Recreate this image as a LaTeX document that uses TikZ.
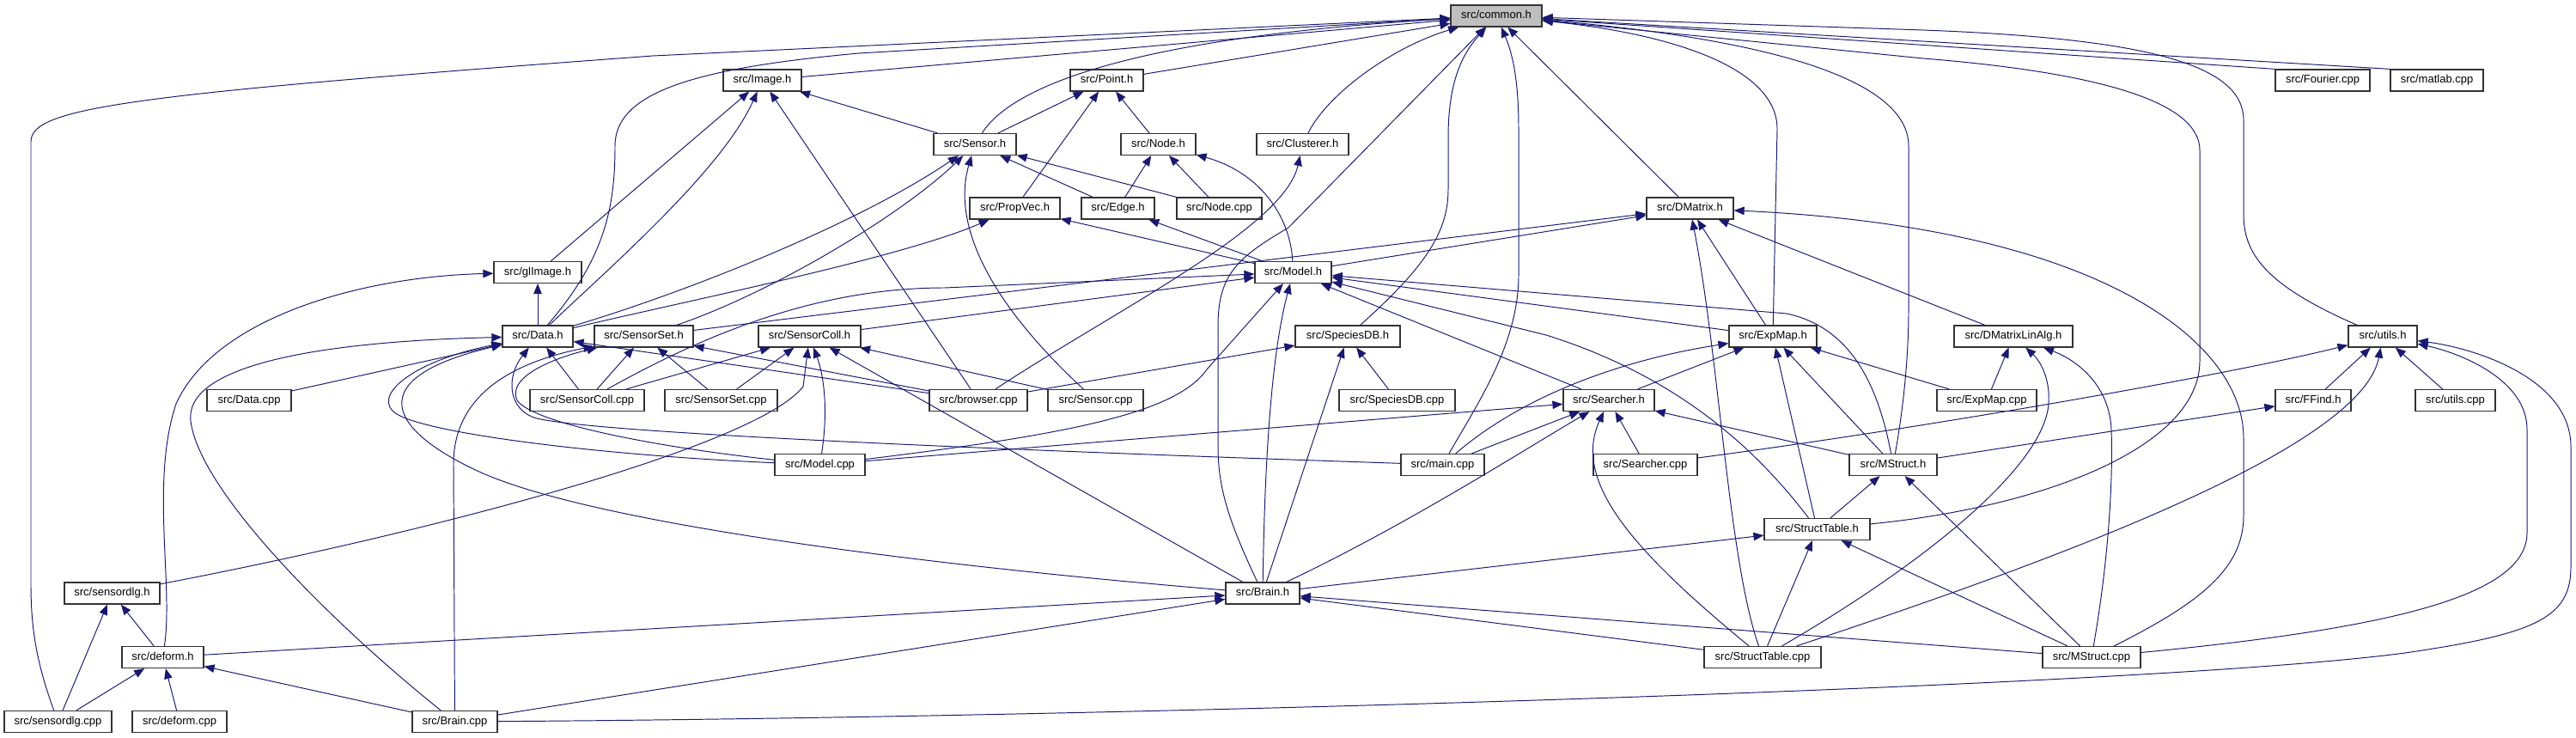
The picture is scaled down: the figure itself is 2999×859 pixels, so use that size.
\documentclass[tikz,border=0pt]{standalone}
\usepackage{fontspec}
\setmainfont{Liberation Sans}
\usetikzlibrary{arrows.meta}
\definecolor{dxedge}{HTML}{191970}
\definecolor{dxfill}{HTML}{BFBFBF}

\begin{document}
\begin{tikzpicture}[x=0.2mm,y=-0.2mm,
  file/.style={draw=black!80,fill=white,line width=0.7pt,minimum height=5mm,
    inner sep=0pt,text height=5.4pt,text depth=1.6pt,font=\fontsize{7.4}{8}\selectfont},
  focus/.style={file,fill=dxfill},
  dep/.style={-{Triangle[length=2.4mm,width=1.9mm]},dxedge,line width=0.55pt}]
  \useasboundingbox[fill=white] (0,0) rectangle (2999,859);
  \node[focus,minimum width=21.2mm] (common) at (1742,18.5) {src/common.h};
  \node[file,minimum width=18.2mm] (image) at (887.5,93.5) {src/Image.h};
  \node[file,minimum width=17mm] (point) at (1288.5,93.5) {src/Point.h};
  \node[file,minimum width=22mm] (fourier) at (2704,93.5) {src/Fourier.cpp};
  \node[file,minimum width=21.6mm] (matlab) at (2837,93.5) {src/matlab.cpp};
  \node[file,minimum width=19.2mm] (sensorh) at (1135,168) {src/Sensor.h};
  \node[file,minimum width=17.4mm] (nodeh) at (1348.5,168) {src/Node.h};
  \node[file,minimum width=21.4mm] (clusterer) at (1516.5,168) {src/Clusterer.h};
  \node[file,minimum width=21mm] (propvec) at (1181.5,242.5) {src/PropVec.h};
  \node[file,minimum width=17mm] (edge) at (1301.5,242.5) {src/Edge.h};
  \node[file,minimum width=19.8mm] (nodecpp) at (1419.5,242.5) {src/Node.cpp};
  \node[file,minimum width=20.2mm] (dmatrix) at (1967.5,242.5) {src/DMatrix.h};
  \node[file,minimum width=20.4mm] (glimage) at (626,317) {src/glImage.h};
  \node[file,minimum width=17.8mm] (modelh) at (1505.5,317) {src/Model.h};
  \node[file,minimum width=16.4mm] (datah) at (626,391.5) {src/Data.h};
  \node[file,minimum width=23mm] (sensorset) at (749.5,391.5) {src/SensorSet.h};
  \node[file,minimum width=23.8mm] (sensorcoll) at (942.5,391.5) {src/SensorColl.h};
  \node[file,minimum width=24.4mm] (speciesdb) at (1569,391.5) {src/SpeciesDB.h};
  \node[file,minimum width=20.4mm] (expmap) at (2064,391.5) {src/ExpMap.h};
  \node[file,minimum width=27.6mm] (linalg) at (2344,391.5) {src/DMatrixLinAlg.h};
  \node[file,minimum width=16mm] (utils) at (2774,391.5) {src/utils.h};
  \node[file,minimum width=19.6mm] (datacpp) at (290,466) {src/Data.cpp};
  \node[file,minimum width=26.6mm] (scollcpp) at (683.5,466) {src/SensorColl.cpp};
  \node[file,minimum width=26.2mm] (ssetcpp) at (839.5,466) {src/SensorSet.cpp};
  \node[file,minimum width=22.8mm] (browser) at (1139,466) {src/browser.cpp};
  \node[file,minimum width=22.2mm] (sensorcpp) at (1275.5,466) {src/Sensor.cpp};
  \node[file,minimum width=27mm] (speciescpp) at (1626.5,466) {src/SpeciesDB.cpp};
  \node[file,minimum width=21.2mm] (searcher) at (1873,466) {src/Searcher.h};
  \node[file,minimum width=23.2mm] (expmapcpp) at (2313,466) {src/ExpMap.cpp};
  \node[file,minimum width=17.6mm] (ffind) at (2693,466) {src/FFind.h};
  \node[file,minimum width=18.6mm] (utilscpp) at (2858.5,466) {src/utils.cpp};
  \node[file,minimum width=21mm] (modelcpp) at (954.5,541) {src/Model.cpp};
  \node[file,minimum width=19.4mm] (maincpp) at (1679.5,541) {src/main.cpp};
  \node[file,minimum width=24.2mm] (searchercpp) at (1915.5,541) {src/Searcher.cpp};
  \node[file,minimum width=20.4mm] (mstruct) at (2204,541) {src/MStruct.h};
  \node[file,minimum width=24.6mm] (structh) at (2115.5,616) {src/StructTable.h};
  \node[file,minimum width=22.2mm] (sdlgh) at (130.5,690.5) {src/sensordlg.h};
  \node[file,minimum width=17.2mm] (brainh) at (1470,690.5) {src/Brain.h};
  \node[file,minimum width=19mm] (deformh) at (189.5,765) {src/deform.h};
  \node[file,minimum width=27.2mm] (structcpp) at (2052,765) {src/StructTable.cpp};
  \node[file,minimum width=22.8mm] (mstructcpp) at (2435,765) {src/MStruct.cpp};
  \node[file,minimum width=25mm] (sdlgcpp) at (67.5,840) {src/sensordlg.cpp};
  \node[file,minimum width=22mm] (deformcpp) at (209,840) {src/deform.cpp};
  \node[file,minimum width=19.8mm] (braincpp) at (529.5,840) {src/Brain.cpp};
  \draw[dep] (image) -- (common);
  \draw[dep] (point) -- (common);
  \draw[dep] (sensorh) .. controls (1175,105) and (1300,45) .. (common);
  \draw[dep] (clusterer) .. controls (1545,110) and (1620,55) .. (common);
  \draw[dep] (datah) .. controls (705,300) and (716,240) .. (716,170) .. controls (716,110) and (800,80) .. (1000,62) -- (common);
  \draw[dep] (sdlgcpp) .. controls (42,770) and (36,730) .. (36,680) -- (36,165) .. controls (36,125) and (150,110) .. (760,65) -- (common);
  \draw[dep] (dmatrix) -- (common);
  \draw[dep] (speciesdb) .. controls (1660,310) and (1686,270) .. (1686,220) -- (1686,160) .. controls (1686,90) and (1705,60) .. (common);
  \draw[dep] (brainh) .. controls (1432,610) and (1418,570) .. (1418,520) -- (1418,380) .. controls (1418,320) and (1440,300) .. (1500,265) -- (common);
  \draw[dep] (maincpp) .. controls (1720,470) and (1768,400) .. (1768,320) -- (1768,150) .. controls (1768,90) and (1760,60) .. (common);
  \draw[dep] (expmap) -- (2069,150) .. controls (2069,80) and (1950,40) .. (common);
  \draw[dep] (mstruct) .. controls (2215,480) and (2222,420) .. (2222,360) -- (2222,170) .. controls (2222,90) and (2050,45) .. (common);
  \draw[dep] (structh) .. controls (2380,590) and (2561,520) .. (2561,420) -- (2561,175) .. controls (2561,120) and (2450,85) .. (2239,68) -- (common);
  \draw[dep] (utils) .. controls (2645,335) and (2612,300) .. (2612,250) -- (2612,140) .. controls (2612,75) and (2500,45) .. (2239,35) -- (common);
  \draw[dep] (fourier.north west) -- (common);
  \draw[dep] (matlab.north west) -- (common);
  \draw[dep] (sensorh) -- (image);
  \draw[dep] (sensorh) -- (point);
  \draw[dep] (nodeh) -- (point);
  \draw[dep] (propvec) -- (point);
  \draw[dep] (glimage) -- (image);
  \draw[dep] (datah) .. controls (700,320) and (840,200) .. (image);
  \draw[dep] (browser) -- (image);
  \draw[dep] (edge) -- (sensorh);
  \draw[dep] (nodecpp) -- (sensorh);
  \draw[dep] (edge) -- (nodeh);
  \draw[dep] (nodecpp) -- (nodeh);
  \draw[dep] (modelh) .. controls (1502,250) and (1465,200) .. (nodeh);
  \draw[dep] (modelh) -- (edge);
  \draw[dep] (modelh) -- (propvec);
  \draw[dep] (datah) .. controls (800,350) and (1050,300) .. (propvec);
  \draw[dep] (datah) .. controls (800,340) and (1000,260) .. (sensorh);
  \draw[dep] (sensorset) .. controls (900,340) and (1050,250) .. (sensorh);
  \draw[dep] (sensorcpp) .. controls (1150,350) and (1108,260) .. (sensorh);
  \draw[dep] (browser) .. controls (1300,360) and (1495,265) .. (clusterer);
  \draw[dep] (modelh) -- (dmatrix);
  \draw[dep] (sensorset) -- (dmatrix);
  \draw[dep] (expmap) -- (dmatrix);
  \draw[dep] (structcpp) .. controls (2012,650) and (2002,420) .. (dmatrix);
  \draw[dep] (linalg) -- (dmatrix);
  \draw[dep] (mstructcpp) .. controls (2565,700) and (2612,660) .. (2612,600) -- (2612,510) .. controls (2612,400) and (2450,265) .. (dmatrix);
  \draw[dep] (datah) -- (glimage);
  \draw[dep] (deformh) .. controls (202,680) and (175,560) .. (205,470) .. controls (250,370) and (420,322) .. (glimage);
  \draw[dep] (sensorcoll) -- (modelh);
  \draw[dep] (scollcpp) .. controls (820,390) and (950,335) .. (1100,335) -- (modelh);
  \draw[dep] (modelcpp) .. controls (1250,505) and (1370,480) .. (1405,430) -- (modelh);
  \draw[dep] (brainh) .. controls (1472,560) and (1478,420) .. (modelh);
  \draw[dep] (searcher) -- (modelh);
  \draw[dep] (expmap) -- (modelh);
  \draw[dep] (structh) .. controls (2050,530) and (1960,440) .. (1800,390) -- (modelh);
  \draw[dep] (mstruct) .. controls (2185,440) and (2150,380) .. (2080,365) -- (modelh);
  \draw[dep] (datacpp) -- (datah);
  \draw[dep] (scollcpp) -- (datah);
  \draw[dep] (browser) -- (datah);
  \draw[dep] (maincpp) .. controls (1200,525) and (700,505) .. (625,487) .. controls (592,478) and (588,440) .. (datah);
  \draw[dep] (modelcpp) .. controls (700,530) and (500,505) .. (462,482) .. controls (430,462) and (480,420) .. (datah);
  \draw[dep] (brainh) .. controls (1100,660) and (700,612) .. (560,550) .. controls (450,500) and (420,440) .. (datah);
  \draw[dep] (braincpp) .. controls (380,720) and (232,570) .. (222,490) .. controls (215,430) and (350,398) .. (datah);
  \draw[dep] (scollcpp) -- (sensorset);
  \draw[dep] (ssetcpp) -- (sensorset);
  \draw[dep] (browser) -- (sensorset);
  \draw[dep] (modelcpp) .. controls (760,520) and (620,492) .. (602,466) .. controls (590,440) and (640,418) .. (sensorset);
  \draw[dep] (braincpp) -- (528,540) .. controls (528,470) and (580,425) .. (sensorset);
  \draw[dep] (scollcpp) -- (sensorcoll);
  \draw[dep] (ssetcpp) -- (sensorcoll);
  \draw[dep] (sensorcpp) -- (sensorcoll);
  \draw[dep] (modelcpp) .. controls (964,480) and (960,440) .. (sensorcoll);
  \draw[dep] (brainh) -- (sensorcoll);
  \draw[dep] (sdlgh) .. controls (500,620) and (880,520) .. (935,450) -- (sensorcoll);
  \draw[dep] (browser) -- (speciesdb);
  \draw[dep] (speciescpp) -- (speciesdb);
  \draw[dep] (brainh) -- (speciesdb);
  \draw[dep] (maincpp) .. controls (1750,480) and (1850,425) .. (expmap);
  \draw[dep] (searcher) -- (expmap);
  \draw[dep] (structh) -- (expmap);
  \draw[dep] (mstruct) -- (expmap);
  \draw[dep] (expmapcpp) -- (expmap);
  \draw[dep] (expmapcpp) -- (linalg);
  \draw[dep] (structcpp) .. controls (2250,650) and (2380,540) .. (2385,470) .. controls (2387,440) and (2375,420) .. (linalg);
  \draw[dep] (mstructcpp) .. controls (2455,650) and (2460,560) .. (2458,500) .. controls (2456,450) and (2420,420) .. (linalg);
  \draw[dep] (searchercpp) .. controls (2250,497) and (2600,435) .. (utils);
  \draw[dep] (ffind) -- (utils);
  \draw[dep] (structcpp) .. controls (2400,650) and (2750,520) .. (utils);
  \draw[dep] (utilscpp) -- (utils);
  \draw[dep] (mstructcpp) .. controls (2800,730) and (2942,690) .. (2942,620) -- (2942,500) .. controls (2942,440) and (2860,410) .. (utils);
  \draw[dep] (braincpp) .. controls (1300,835) and (2500,800) .. (2800,760) .. controls (2950,738) and (2993,720) .. (2993,660) -- (2993,520) .. controls (2993,440) and (2880,405) .. (utils);
  \draw[dep] (modelcpp) -- (searcher);
  \draw[dep] (maincpp) -- (searcher);
  \draw[dep] (brainh) .. controls (1640,610) and (1780,520) .. (searcher);
  \draw[dep] (structcpp) .. controls (1900,640) and (1830,560) .. (searcher);
  \draw[dep] (searchercpp) -- (searcher);
  \draw[dep] (mstruct) -- (searcher);
  \draw[dep] (mstruct) -- (ffind);
  \draw[dep] (structh) -- (mstruct);
  \draw[dep] (mstructcpp) -- (mstruct);
  \draw[dep] (brainh) -- (structh);
  \draw[dep] (structcpp) -- (structh);
  \draw[dep] (mstructcpp) -- (structh);
  \draw[dep] (sdlgcpp) -- (sdlgh);
  \draw[dep] (deformh) -- (sdlgh);
  \draw[dep] (deformh) -- (brainh);
  \draw[dep] (braincpp) -- (brainh);
  \draw[dep] (structcpp) -- (brainh);
  \draw[dep] (mstructcpp) -- (brainh);
  \draw[dep] (sdlgcpp) -- (deformh);
  \draw[dep] (deformcpp) -- (deformh);
  \draw[dep] (braincpp) -- (deformh);
\end{tikzpicture}
\end{document}
